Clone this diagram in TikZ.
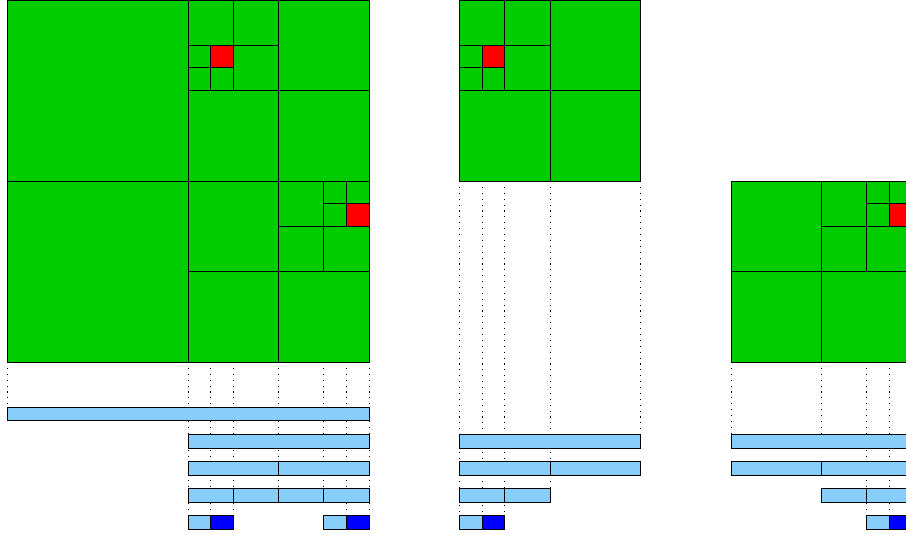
\documentclass[tikz,border=0pt]{standalone}
\usepackage{tikz}
\definecolor{cLeaf}{HTML}{00CC00}
\definecolor{cHit}{HTML}{FF0000}
\definecolor{cSeg}{HTML}{87CEFA}
\definecolor{cSegHit}{HTML}{0000FF}

\begin{document}
\begin{tikzpicture}[
  x=5mm, y=-5mm,
  cell/.style={draw=black, fill=cLeaf, line width=0.6pt},
  hit/.style={cell, fill=cHit},
  seg/.style={draw=black, fill=cSeg, line width=0.6pt},
  seghit/.style={seg, fill=cSegHit},
  guide/.style={line width=0.6pt, dash pattern=on 0.7pt off 3pt},
]
\path[use as bounding box, clip] (-0.31,0) rectangle (39.73,23.69);

% ---------- guides ----------
\foreach \x/\top/\bot in {0/16/18, 8/16/22.8, 9/16/22.8, 10/16/22.8,
    12/16/21.6, 14/16/21.6, 15/16/22.8, 16/16/22.8,
    20/8/22.8, 21/8/22.8, 22/8/22.8, 24/8/21.6, 28/8/19.2,
    32/16/19.2, 36/16/19.2, 38/16/22.8, 39/16/22.8, 40/16/22.8}
  \draw[guide] (\x,\top) -- (\x,\bot);

% ---------- left tree ----------
\foreach \x/\y/\s in {0/0/8, 0/8/8, 12/0/4, 8/4/4, 12/4/4,
    8/0/2, 10/0/2, 10/2/2, 8/2/1, 8/3/1, 9/3/1,
    8/8/4, 8/12/4, 12/12/4, 12/8/2, 12/10/2, 14/10/2,
    14/8/1, 15/8/1, 14/9/1}
  \draw[cell] (\x,\y) rectangle ++(\s,\s);
\draw[hit] (9,2) rectangle ++(1,1);
\draw[hit] (15,9) rectangle ++(1,1);

% ---------- middle tree ----------
\foreach \x/\y/\s in {24/0/4, 20/4/4, 24/4/4,
    20/0/2, 22/0/2, 22/2/2, 20/2/1, 20/3/1, 21/3/1}
  \draw[cell] (\x,\y) rectangle ++(\s,\s);
\draw[hit] (21,2) rectangle ++(1,1);

% ---------- right tree ----------
\foreach \x/\y/\s in {32/8/4, 32/12/4, 36/12/4,
    36/8/2, 36/10/2, 38/10/2, 38/8/1, 39/8/1, 38/9/1}
  \draw[cell] (\x,\y) rectangle ++(\s,\s);
\draw[hit] (39,9) rectangle ++(1,1);

% ---------- segments ----------
\foreach \k/\a/\b in {0/0/16, 1/8/16, 2/8/12, 2/12/16,
    3/8/10, 3/10/12, 3/12/14, 3/14/16, 4/8/9, 4/14/15,
    1/20/28, 2/20/24, 2/24/28, 3/20/22, 3/22/24, 4/20/21,
    1/32/40, 2/32/36, 2/36/40, 3/36/38, 3/38/40, 4/38/39}
  \draw[seg] (\a,{18+1.2*\k}) rectangle (\b,{18.6+1.2*\k});
\foreach \a/\b in {9/10, 15/16, 21/22, 39/40}
  \draw[seghit] (\a,22.8) rectangle (\b,23.4);

\end{tikzpicture}
\end{document}
